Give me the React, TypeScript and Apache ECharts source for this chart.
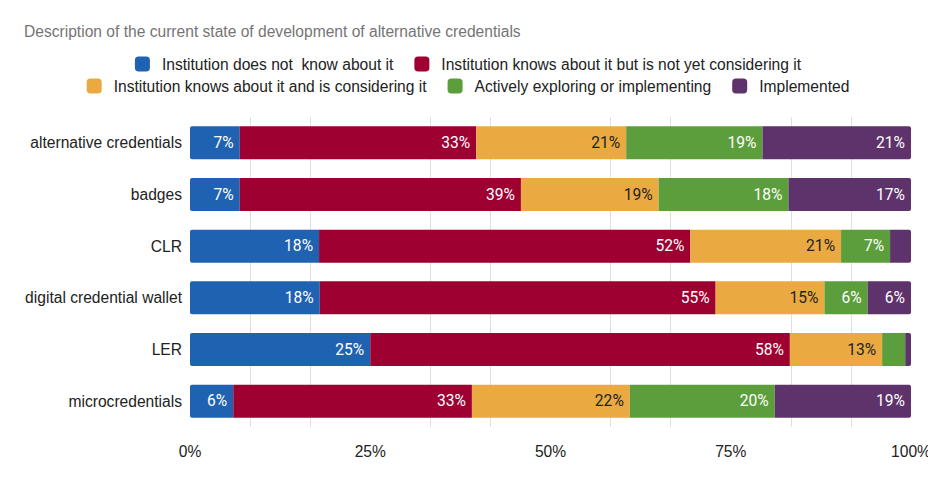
import React, { useEffect, useRef } from "react";
import * as echarts from "echarts";

const categories = [
  "alternative credentials",
  "badges",
  "CLR",
  "digital credential wallet",
  "LER",
  "microcredentials",
];
const seriesNames = [
  "Institution does not  know about it",
  "Institution knows about it but is not yet considering it",
  "Institution knows about it and is considering it",
  "Actively exploring or implementing",
  "Implemented",
];
const notKnow = [6.9, 6.9, 17.9, 18.0, 25.0, 6.0];
const notConsidering = [32.8, 39.0, 51.5, 54.9, 58.2, 33.1];
const considering = [20.8, 19.1, 20.9, 15.1, 12.8, 21.9];
const exploring = [18.9, 18.0, 6.8, 6.0, 3.2, 20.1];
const implemented = [20.6, 17.0, 2.9, 6.0, 0.8, 18.9];
const seriesValues = [notKnow, notConsidering, considering, exploring, implemented];
const colors = ["#1F62B1", "#9D0031", "#EAAA41", "#5C9E3C", "#5E336B"];
const labelColors = ["#ffffff", "#ffffff", "#222222", "#ffffff", "#ffffff"];
const xTicks = [0, 25, 50, 75, 100];

const FONT = "Arial, 'Liberation Sans', sans-serif";
const LABEL_FONT = "Roboto, Arial, sans-serif";
const FS = 15.6;

export default function App() {
  const ref = useRef<HTMLDivElement>(null);
  useEffect(() => {
    if (!ref.current) return;
    const chart = echarts.init(ref.current, undefined, { renderer: "svg" });
    const legendBase = {
      itemWidth: 15,
      itemHeight: 15,
      icon: "roundRect",
      itemGap: 21,
      textStyle: {
        fontFamily: FONT,
        fontSize: FS,
        color: "#222222",
        padding: [0, 0, 0, 7],
      },
      left: "center",
    };
    chart.setOption({
      animation: false,
      textStyle: { fontFamily: FONT },
      title: {
        text: "Description of the current state of development of alternative credentials",
        left: 19,
        top: 18,
        textStyle: {
          fontFamily: FONT,
          fontSize: FS,
          fontWeight: "normal",
          color: "#757575",
        },
      },
      legend: [
        { ...legendBase, top: 51, data: seriesNames.slice(0, 2) },
        { ...legendBase, top: 73, data: seriesNames.slice(2) },
      ],
      grid: {
        left: 190,
        right: 25,
        top: 117,
        bottom: 57,
        containLabel: false,
        outerBoundsMode: "none",
      },
      xAxis: {
        type: "value",
        min: 0,
        max: 100,
        interval: 25,
        axisLine: { show: false },
        axisTick: { show: false },
        axisLabel: {
          color: "#222222",
          fontFamily: FONT,
          fontSize: FS,
          margin: 16,
          formatter: (v: number) => (xTicks.includes(v) ? v + "%" : ""),
        },
        splitLine: { show: false },
        minorTick: { show: false, splitNumber: 3 },
        minorSplitLine: { show: true, lineStyle: { color: "#e0e0e0", width: 1 } },
      },
      yAxis: {
        type: "category",
        data: categories,
        inverse: true,
        axisLine: { show: false },
        axisTick: { show: false },
        axisLabel: {
          color: "#222222",
          fontFamily: FONT,
          fontSize: FS,
          margin: 8,
        },
      },
      series: seriesValues.map((vals, i) => ({
        name: seriesNames[i],
        type: "bar",
        stack: "total",
        barWidth: "64%",
        data: vals,
        itemStyle: {
          color: colors[i],
          borderRadius: i === 0 ? [2, 0, 0, 2] : i === 4 ? [0, 2, 2, 0] : 0,
        },
        label: {
          show: true,
          position: "insideRight",
          distance: 6,
          color: labelColors[i],
          fontFamily: LABEL_FONT,
          fontSize: FS,
          formatter: (p: any) => (p.value >= 5 ? Math.round(p.value) + "%" : ""),
        },
      })),
    });
    return () => chart.dispose();
  }, []);
  return <div ref={ref} style={{ width: 936, height: 484, margin: -8 }} />;
}
